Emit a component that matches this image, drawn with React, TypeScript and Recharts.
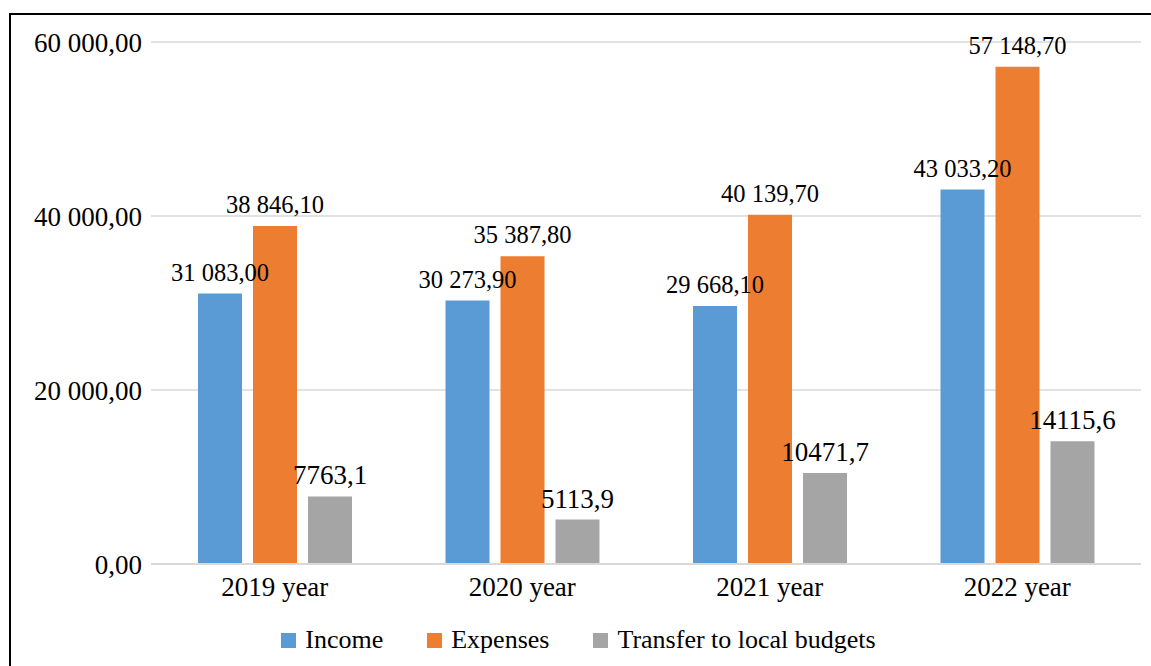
import React from 'react';
import { BarChart, Bar, XAxis, YAxis, CartesianGrid, Legend, LabelList } from 'recharts';

const categories = ['2019 year', '2020 year', '2021 year', '2022 year'];
const income = [31083.0, 30273.9, 29668.1, 43033.2];
const expenses = [38846.1, 35387.8, 40139.7, 57148.7];
const transfers = [7763.1, 5113.9, 10471.7, 14115.6];
const yTicks = [0, 20000, 40000, 60000];
const seriesNames = ['Income', 'Expenses', 'Transfer to local budgets'];
const seriesColors = ['#5B9BD5', '#ED7D31', '#A5A5A5'];

const data = categories.map((c, i) => ({
  name: c,
  income: income[i],
  expenses: expenses[i],
  transfers: transfers[i],
}));

const FONT = '"Liberation Serif", "Times New Roman", serif';

const fmt2 = (v: any) => {
  const n = Number(v);
  const [ip, dp] = n.toFixed(2).split('.');
  return ip.replace(/\B(?=(\d{3})+(?!\d))/g, ' ') + ',' + dp;
};
const fmt1 = (v: any) => Number(v).toFixed(1).replace('.', ',');

const makeLabel = (fmt: (v: any) => string, fontSize: number, offset: number) => (props: any) => {
  const { x, y, width, value } = props;
  return (
    <text
      x={Number(x) + Number(width) / 2}
      y={Number(y) - offset}
      textAnchor="middle"
      fill="#000"
      style={{ fontFamily: FONT, fontSize }}
    >
      {fmt(value)}
    </text>
  );
};

const LegendContent = (props: any) => {
  const payload = [...(props.payload || [])].sort(
    (a: any, b: any) => seriesNames.indexOf(a.value) - seriesNames.indexOf(b.value)
  );
  return (
    <div
      style={{
        display: 'flex',
        justifyContent: 'center',
        alignItems: 'center',
        height: 40,
        fontFamily: FONT,
        fontSize: 26,
        color: '#000',
        paddingLeft: 6,
      }}
    >
      {payload.map((e: any, i: number) => (
        <div key={i} style={{ display: 'flex', alignItems: 'center', marginRight: i < payload.length - 1 ? 44 : 0 }}>
          <span style={{ display: 'inline-block', width: 15, height: 15, background: e.color, marginRight: 9 }} />
          <span style={{ lineHeight: '30px', whiteSpace: 'nowrap' }}>{e.value}</span>
        </div>
      ))}
    </div>
  );
};

export default function App() {
  return (
    <div style={{ position: 'absolute', left: 0, top: 0, width: 1151, height: 666, overflow: 'hidden', background: '#fff' }}>
      <div
        style={{
          position: 'absolute',
          left: 9,
          top: 13,
          width: 1250,
          height: 760,
          border: '2px solid #000',
          boxSizing: 'border-box',
        }}
      />
      <div style={{ position: 'absolute', left: 0, top: 0 }}>
        <BarChart
          width={1151}
          height={666}
          data={data}
          margin={{ top: 42, right: 10, left: 0, bottom: 6 }}
          barGap={11}
          barSize={44}
          style={{ fontFamily: FONT }}
        >
          <CartesianGrid vertical={false} stroke="#D9D9D9" strokeWidth={1.5} />
          <XAxis
            dataKey="name"
            height={56}
            tickLine={false}
            tickSize={0}
            tickMargin={13}
            axisLine={{ stroke: '#D9D9D9', strokeWidth: 2 }}
            tick={{ fill: '#000', fontSize: 27, fontFamily: FONT }}
          />
          <YAxis
            width={151}
            domain={[0, 60000]}
            ticks={yTicks}
            interval={0}
            axisLine={false}
            tickLine={false}
            tickSize={0}
            tickMargin={9}
            tickFormatter={fmt2}
            tick={{ fill: '#000', fontSize: 27, fontFamily: FONT }}
          />
          <Legend
            verticalAlign="bottom"
            align="center"
            height={40}
            content={<LegendContent />}
            wrapperStyle={{ left: 0, width: 1151 }}
          />
          <Bar dataKey="income" name={seriesNames[0]} fill={seriesColors[0]} isAnimationActive={false}>
            <LabelList dataKey="income" content={makeLabel(fmt2, 24.5, 13)} />
          </Bar>
          <Bar dataKey="expenses" name={seriesNames[1]} fill={seriesColors[1]} isAnimationActive={false}>
            <LabelList dataKey="expenses" content={makeLabel(fmt2, 24.5, 13)} />
          </Bar>
          <Bar dataKey="transfers" name={seriesNames[2]} fill={seriesColors[2]} isAnimationActive={false}>
            <LabelList dataKey="transfers" content={makeLabel(fmt1, 27, 12)} />
          </Bar>
        </BarChart>
      </div>
    </div>
  );
}
